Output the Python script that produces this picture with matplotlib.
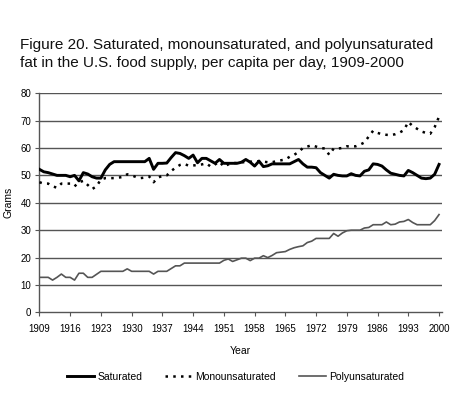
import matplotlib
matplotlib.use("Agg")
import matplotlib.pyplot as plt

# grams per capita per day, 1909-2000
years = list(range(1909, 2001))

saturated = [
    52.2, 51.3, 51.0, 50.5, 50.0, 50.0, 50.0, 49.5, 50.0, 48.0,   # 1909-1918
    51.0, 50.5, 49.5, 49.0, 49.0, 52.0, 54.0, 55.0, 55.0, 55.0,   # 1919-1928
    55.0, 55.0, 55.0, 55.0, 55.0, 56.2, 52.2, 54.4, 54.4, 54.5,   # 1929-1938
    56.5, 58.3, 58.0, 57.2, 56.2, 57.4, 54.6, 56.2, 56.2, 55.3,   # 1939-1948
    54.4, 55.8, 54.4, 54.4, 54.4, 54.4, 54.8, 55.8, 54.8, 53.4,   # 1949-1958
    55.2, 53.2, 53.5, 54.2, 54.2, 54.2, 54.2, 54.2, 55.0, 55.8,   # 1959-1968
    54.2, 53.0, 53.0, 52.8, 51.0, 50.0, 49.0, 50.4, 50.0, 49.8,   # 1969-1978
    49.8, 50.6, 50.0, 49.8, 51.5, 52.0, 54.2, 54.0, 53.4, 52.0,   # 1979-1988
    50.8, 50.4, 50.0, 49.8, 51.8, 51.0, 50.0, 49.0, 48.8, 49.0,   # 1989-1998
    50.4, 54.0,                                                   # 1999-2000
]

monounsaturated = [
    47.5, 47.0, 47.0, 46.0, 45.5, 47.0, 47.0, 47.0, 46.0, 47.5,
    48.0, 46.5, 45.0, 46.0, 48.5, 49.0, 49.0, 49.0, 49.2, 49.4,
    50.4, 50.0, 49.4, 49.0, 49.2, 49.6, 47.5, 49.2, 49.8, 50.0,
    51.6, 52.8, 53.8, 54.2, 53.5, 53.6, 53.8, 54.0, 54.4, 53.2,
    54.0, 55.0, 53.2, 54.0, 54.5, 54.5, 54.8, 54.8, 55.0, 55.0,
    55.2, 55.0, 54.8, 54.8, 55.2, 55.5, 55.8, 56.8, 57.5, 58.5,
    60.0, 60.5, 61.0, 60.5, 60.0, 59.8, 57.5, 59.8, 59.8, 60.0,
    60.6, 60.6, 60.6, 61.2, 62.0, 64.2, 66.3, 65.5, 65.0, 64.8,
    64.7, 65.0, 65.6, 66.5, 69.5, 68.0, 67.0, 66.0, 65.5, 65.2,
    67.6, 71.4,
]

polyunsaturated = [
    12.8, 12.8, 12.8, 11.8, 12.8, 14.0, 12.8, 12.8, 11.8, 14.3,
    14.3, 12.8, 12.8, 13.9, 15.0, 15.0, 15.0, 15.0, 15.0, 15.0,
    15.9, 15.0, 15.0, 15.0, 15.0, 15.0, 14.0, 15.0, 15.0, 15.0,
    16.0, 17.0, 17.0, 18.0, 18.0, 18.0, 18.0, 18.0, 18.0, 18.0,
    18.0, 18.0, 19.0, 19.5, 18.6, 19.2, 19.8, 19.8, 18.9, 19.8,
    19.8, 20.7, 20.0, 20.8, 21.8, 22.0, 22.2, 23.0, 23.6, 24.0,
    24.3, 25.5, 26.0, 27.0, 27.0, 27.0, 27.0, 28.8, 27.8, 29.0,
    29.8, 30.0, 30.0, 30.0, 30.8, 31.0, 32.0, 32.0, 32.0, 33.0,
    32.0, 32.2, 33.0, 33.2, 33.9, 32.8, 32.0, 32.0, 32.0, 32.0,
    33.5, 35.7,
]

year_ticks = list(range(1909, 2001, 7))
gram_ticks = list(range(0, 81, 10))

title = ("Figure 20. Saturated, monounsaturated, and polyunsaturated\n"
         "fat in the U.S. food supply, per capita per day, 1909-2000")

plt.rcParams['font.family'] = ['Liberation Sans', 'DejaVu Sans']

fig = plt.figure(figsize=(4.53, 3.93), dpi=100)
ax = fig.add_axes([0.087, 0.205, 0.888, 0.558])

for g in gram_ticks[1:]:
    ax.axhline(g, color='#555555', lw=1.0, zorder=1)

ax.plot(years, saturated, color='black', lw=2.1, label='Saturated', zorder=3)
ax.plot(years, monounsaturated, color='black', lw=1.8,
        linestyle=(0, (1, 2.1)), label='Monounsaturated', zorder=3)
ax.plot(years, polyunsaturated, color='#555555', lw=1.2,
        label='Polyunsaturated', zorder=3)

ax.set_xlim(1909, 2000.6)
ax.set_ylim(0, 80)
ax.set_xticks(year_ticks)
ax.set_yticks(gram_ticks)
ax.tick_params(labelsize=7, length=3, width=0.8, color='#555555')
ax.tick_params(axis='x', pad=5)
ax.tick_params(axis='y', pad=3)
for s in ('top', 'right'):
    ax.spines[s].set_visible(False)
for s in ('left', 'bottom'):
    ax.spines[s].set_color('#555555')
    ax.spines[s].set_linewidth(1.0)

ax.set_ylabel('Grams', fontsize=7.5, labelpad=5)
ax.set_xlabel('Year', fontsize=7.5, labelpad=9)

fig.text(0.044, 0.822, title, fontsize=11.0, ha='left', va='bottom',
         linespacing=1.4, color='#111111')

fig.legend(loc='center', bbox_to_anchor=(0.52, 0.041), ncol=3, frameon=False,
           fontsize=7.5, handlelength=2.6, handletextpad=0.3, columnspacing=2.2)

fig.savefig('out.png', dpi=100)
